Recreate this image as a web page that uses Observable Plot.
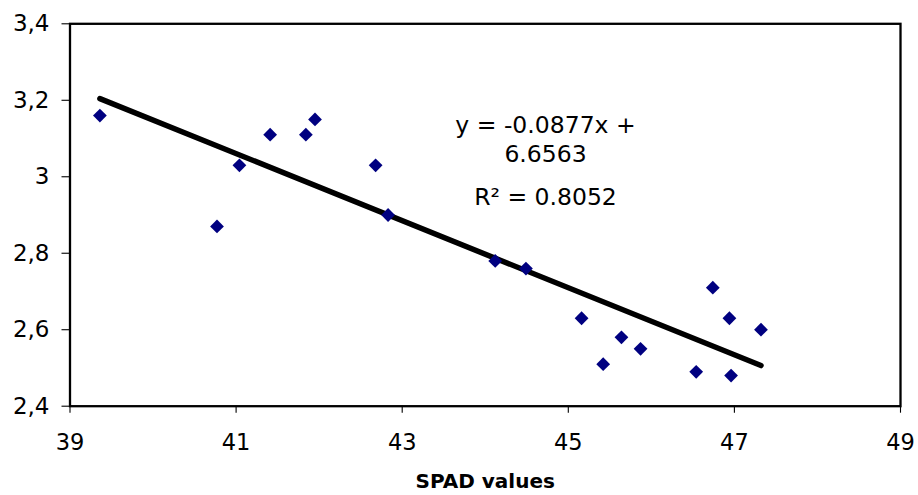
<!DOCTYPE html>
<html><head><meta charset="utf-8">
<script src="https://cdn.jsdelivr.net/npm/d3@7"></script>
<script src="https://cdn.jsdelivr.net/npm/@observablehq/plot@0.6"></script>
<style>body{margin:0;background:#fff}</style>
</head><body><div id="chart"></div>
<script>
const spad = [39.36,40.77,41.04,41.41,41.84,41.95,42.68,42.83,44.12,44.49,45.16,45.42,45.64,45.87,46.54,46.74,46.94,46.96,47.32];
const values = [3.16,2.87,3.03,3.11,3.11,3.15,3.03,2.90,2.78,2.76,2.63,2.51,2.58,2.55,2.49,2.71,2.63,2.48,2.60];
const slope = -0.0877;
const intercept = 6.6563;
const xTicks = [39,41,43,45,47,49];
const yTicks = [2.4,2.6,2.8,3.0,3.2,3.4];
const eqLines = ["y = -0.0877x +", "6.6563", "R\u00B2 = 0.8052"];
const xLabel = "SPAD values";

const points = spad.map((x, i) => ({x, y: values[i]}));
const trend = d3.extent(spad).map(x => ({x, y: slope * x + intercept}));
const font = "'DejaVu Sans', sans-serif";

const chart = Plot.plot({
  width: 918,
  height: 495,
  marginLeft: 69.5,
  marginRight: 18,
  marginTop: 23.3,
  marginBottom: 89.3,
  style: {fontFamily: font, fontSize: "23px", color: "black", background: "white"},
  x: {domain: [39, 49]},
  y: {domain: [2.4, 3.4]},
  marks: [
    Plot.frame({stroke: "black", strokeWidth: 2.3}),
    Plot.axisX({ticks: xTicks, tickSize: 7, tickPadding: 21, label: null, fontSize: 22.5, strokeWidth: 1.1}),
    Plot.axisY({ticks: yTicks, tickSize: 8, tickPadding: 12.5, label: null, fontSize: 23, strokeWidth: 1.1,
      tickFormat: d => String(d).replace(".", ",")}),
    Plot.line(trend, {x: "x", y: "y", stroke: "black", strokeWidth: 5.5, strokeLinecap: "round"}),
    Plot.dot(points, {x: "x", y: "y", symbol: "diamond2", r: 6.2, fill: "#000080", stroke: "none"}),
    Plot.text([eqLines[0]], {text: d => d, frameAnchor: "top-left", dx: 475.5, dy: 93, textAnchor: "middle", fontSize: 23.5}),
    Plot.text([eqLines[1]], {text: d => d, frameAnchor: "top-left", dx: 475.5, dy: 121.5, textAnchor: "middle", fontSize: 23.5}),
    Plot.text([eqLines[2]], {text: d => d, frameAnchor: "top-left", dx: 475.5, dy: 165, textAnchor: "middle", fontSize: 23.5}),
    Plot.text([xLabel], {text: d => d, frameAnchor: "bottom", dy: 82, fontSize: 20, fontWeight: "bold"})
  ]
});
document.getElementById("chart").append(chart);
</script>
</body></html>
